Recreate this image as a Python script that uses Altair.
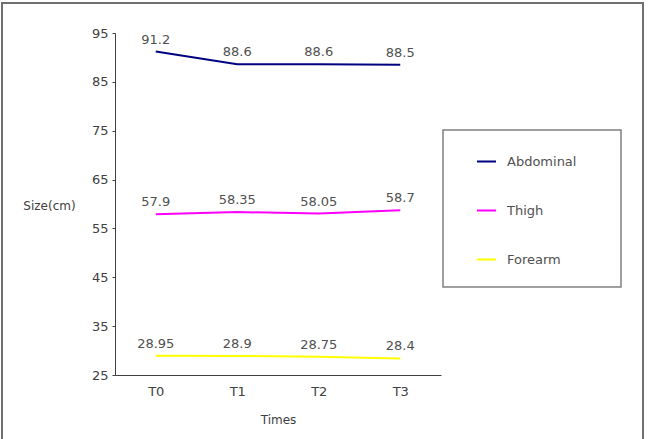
import altair as alt
import pandas as pd

# Measurement times and the three body circumferences (cm)
times = ["T0", "T1", "T2", "T3"]
series_names = ["Abdominal", "Thigh", "Forearm"]
abdominal = [91.2, 88.6, 88.6, 88.5]
thigh = [57.9, 58.35, 58.05, 58.7]
forearm = [28.95, 28.9, 28.75, 28.4]
y_ticks = [25, 35, 45, 55, 65, 75, 85, 95]
colors = ["#000080", "#ff00ff", "#ffff00"]

rows = []
for name, vals in zip(series_names, [abdominal, thigh, forearm]):
    for t, v in zip(times, vals):
        rows.append({"Times": t, "Part": name, "Size": v, "Label": f"{v:g}"})
df = pd.DataFrame(rows)

FONT = "DejaVu Sans"
W, H = 326, 342

x_enc = alt.X(
    "Times:N",
    sort=times,
    scale=alt.Scale(type="point", padding=0.5),
    axis=alt.Axis(
        title="Times",
        labelAngle=0,
        ticks=False,
        labelPadding=10,
        labelFontSize=13,
        labelFont=FONT,
        labelColor="#404040",
        titleFont=FONT,
        titleFontSize=12,
        titleFontWeight="normal",
        titleColor="#404040",
        titleY=44,
        titleBaseline="middle",
        domainColor="#404040",
    ),
)
y_enc = alt.Y(
    "Size:Q",
    scale=alt.Scale(domain=[25, 95], nice=False, zero=False),
    axis=alt.Axis(
        title="Size(cm)",
        values=y_ticks,
        grid=False,
        tickSize=3,
        tickColor="#404040",
        labelPadding=4,
        labelFontSize=13,
        labelFont=FONT,
        labelColor="#404040",
        titleFont=FONT,
        titleFontSize=12,
        titleFontWeight="normal",
        titleColor="#404040",
        titleAngle=0,
        titleAlign="center",
        titleBaseline="middle",
        titleX=-66,
        titleY=172,
        domainColor="#404040",
    ),
)
color_enc = alt.Color(
    "Part:N",
    sort=series_names,
    scale=alt.Scale(domain=series_names, range=colors),
    legend=alt.Legend(
        title=None,
        orient="none",
        legendX=361,
        legendY=118,
        symbolType="stroke",
        symbolSize=361,
        symbolStrokeWidth=2,
        rowPadding=31,
        labelOffset=10,
        labelFont=FONT,
        labelFontSize=13,
        labelColor="#505050",
        padding=0,
    ),
)

base = alt.Chart(df)

lines = base.mark_line(strokeWidth=2).encode(x=x_enc, y=y_enc, color=color_enc)

labels = base.mark_text(
    dy=-8, baseline="alphabetic", font=FONT, fontSize=13, color="#505050"
).encode(x=alt.X("Times:N", sort=times), y="Size:Q", text="Label:N")

# Frame around the whole figure and the box behind the legend
frame = alt.Chart(pd.DataFrame({"k": [0]})).mark_rect(
    fill=None, stroke="#707070", strokeWidth=2, clip=False
).encode(
    x=alt.value(-113), x2=alt.value(528), y=alt.value(-30), y2=alt.value(420)
)
legend_box = alt.Chart(pd.DataFrame({"k": [0]})).mark_rect(
    fill=None, stroke="#808080", strokeWidth=1.5, clip=False
).encode(
    x=alt.value(328), x2=alt.value(506), y=alt.value(97), y2=alt.value(254)
)

chart = (
    alt.layer(frame, legend_box, lines, labels)
    .properties(
        width=W,
        height=H,
        padding={"left": 115, "top": 33, "right": 210, "bottom": 64},
        autosize=alt.AutoSizeParams(type="none"),
        background="white",
    )
    .configure_view(stroke=None)
)

chart.save("out.html", embed_options={"renderer": "svg", "actions": False})
